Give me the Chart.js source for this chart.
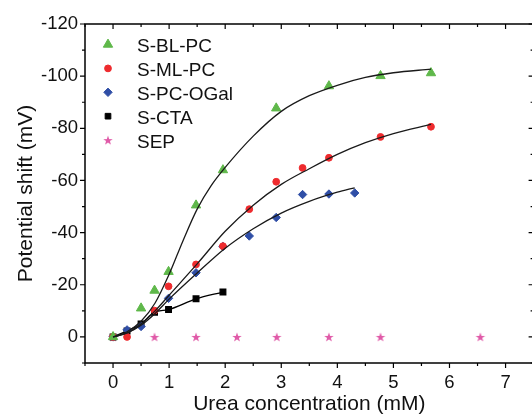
<!DOCTYPE html>
<html lang="en">
<head>
  <meta charset="UTF-8">
  <title>Potential shift vs urea concentration</title>
  <style>
    html, body {
      margin: 0;
      padding: 0;
      background: #fff;
      overflow: hidden;
    }
    .wrap {
      width: 540px;
      height: 414px;
    }
  </style>
</head>
<body>
  <div class="wrap">
    <canvas id="chart" width="540" height="414"></canvas>
  </div>

  <script src="https://cdn.jsdelivr.net/npm/chart.js"></script>
  <script>
    // measured points (urea in mM, shift in mV)
    const concBL = [0, 0.5, 0.74, 0.99, 1.48, 1.96, 2.91, 3.85, 4.77, 5.67];
    const shiftBL = [0, -11, -17.8, -25, -50.5, -64, -87.7, -96.2, -100.1, -101.2];

    const concML = [0, 0.25, 0.74, 0.99, 1.48, 1.96, 2.43, 2.91, 3.38, 3.85, 4.77, 5.67];
    const shiftML = [0, 0, -10.1, -19.4, -27.8, -34.8, -49, -59.5, -64.8, -68.7, -76.7, -80.6];

    const concOGal = [0, 0.25, 0.5, 0.99, 1.48, 1.96, 2.43, 2.91, 3.38, 3.85, 4.31];
    const shiftOGal = [0, -2.7, -4, -14.8, -24.6, -34.7, -38.7, -45.8, -54.6, -54.8, -55.2];

    const concCTA = [0, 0.25, 0.5, 0.74, 0.99, 1.48, 1.96];
    const shiftCTA = [0, -2.3, -5, -9.5, -10.5, -14.6, -17.2];

    const concSEP = [0, 0.74, 1.48, 2.21, 2.92, 3.85, 4.77, 6.55];
    const shiftSEP = [0, 0, 0, 0, 0, 0, 0, 0];

    // fitted curves
    const fitBLx = [0, 0.25, 0.5, 0.75, 1, 1.25, 1.5, 1.75, 2, 2.5, 3, 3.5, 4, 4.5, 5, 5.67];
    const fitBLy = [0, -2, -6, -13, -24, -37, -49, -58, -65, -77, -86.5, -92.5, -96.5, -99.5, -101.3, -102.7];
    const fitMLx = [0, 0.25, 0.5, 0.75, 1, 1.5, 2, 2.5, 3, 3.5, 4, 4.5, 5, 5.67];
    const fitMLy = [0, -1.5, -5, -10, -16, -28, -40.5, -50.5, -58.5, -64.5, -70, -74.5, -78, -81.5];
    const fitOGalx = [0, 0.25, 0.5, 0.75, 1, 1.5, 2, 2.5, 3, 3.5, 4, 4.31];
    const fitOGaly = [0, -1.5, -4.5, -9, -14.5, -24.5, -34, -41.5, -47.5, -52, -55.5, -57.2];

    const xTicks = [0, 1, 2, 3, 4, 5, 6, 7];
    const yTicks = [-120, -100, -80, -60, -40, -20, 0];

    const FONT = "'Liberation Sans', Arial, sans-serif";
    const TEXT = '#111';

    function pts(xs, ys) {
      return xs.map((x, i) => ({ x: x, y: ys[i] }));
    }

    function makeStar(color) {
      const c = document.createElement('canvas');
      c.width = 12;
      c.height = 12;
      const g = c.getContext('2d');
      g.fillStyle = color;
      g.beginPath();
      for (let i = 0; i < 10; i++) {
        const r = i % 2 ? 2 : 5;
        const a = -Math.PI / 2 + i * Math.PI / 5;
        g.lineTo(6 + r * Math.cos(a), 6.5 + r * Math.sin(a));
      }
      g.closePath();
      g.fill();
      return c;
    }

    const star = makeStar('#e05aa8');

    function fitLine(xs, ys) {
      return {
        data: pts(xs, ys),
        showLine: true,
        borderColor: '#1a1a1a',
        borderWidth: 1.3,
        pointRadius: 0,
        cubicInterpolationMode: 'monotone',
        fill: false
      };
    }

    function marks(label, xs, ys, color, style, radius) {
      return {
        label: label,
        data: pts(xs, ys),
        backgroundColor: color,
        borderColor: color,
        borderWidth: 1,
        pointStyle: style,
        pointRadius: radius
      };
    }

    const series = [
      marks('S-BL-PC', concBL, shiftBL, '#5fb84a', 'triangle', 5.4),
      marks('S-ML-PC', concML, shiftML, '#ee2b2e', 'circle', 3.4),
      marks('S-PC-OGal', concOGal, shiftOGal, '#2f4ea6', 'rectRot', 4.2),
      marks('S-CTA', concCTA, shiftCTA, '#000000', 'rect', 4),
      marks('SEP', concSEP, shiftSEP, '#e05aa8', star, 5)
    ];
    // CTA points are joined by their own curve
    series[3].showLine = true;
    series[3].cubicInterpolationMode = 'monotone';
    series[3].borderWidth = 1.3;

    // frame with inward ticks on top/right, outward on left/bottom
    const frame = {
      id: 'frame',
      afterDatasetsDraw(chart) {
        const { ctx, chartArea: a, scales: { x, y } } = chart;
        ctx.save();
        ctx.strokeStyle = '#000';
        ctx.lineWidth = 1.5;
        ctx.strokeRect(a.left, a.top, a.right - a.left, a.bottom - a.top);
        ctx.lineWidth = 1.2;
        ctx.beginPath();
        for (let v = x.min; v <= x.max + 1e-9; v += 0.5) {
          const px = x.getPixelForValue(v);
          const len = Number.isInteger(v) ? 5 : 3;
          ctx.moveTo(px, a.bottom);
          ctx.lineTo(px, a.bottom + len);
          ctx.moveTo(px, a.top);
          ctx.lineTo(px, a.top + len);
        }
        for (let v = -120; v <= y.max + 1e-9; v += 10) {
          const py = y.getPixelForValue(v);
          const len = v % 20 === 0 ? 5 : 3;
          ctx.moveTo(a.left, py);
          ctx.lineTo(a.left - len, py);
          ctx.moveTo(a.right, py);
          ctx.lineTo(a.right - len, py);
        }
        ctx.stroke();
        ctx.restore();
      }
    };

    const legendBox = {
      id: 'legendBox',
      afterDraw(chart) {
        const ctx = chart.ctx;
        ctx.save();
        ctx.font = '19px ' + FONT;
        ctx.textBaseline = 'alphabetic';
        ctx.textAlign = 'left';
        series.forEach((ds, i) => {
          const my = 44.5 + i * 23.9;
          ctx.fillStyle = ds.backgroundColor;
          ctx.strokeStyle = ds.borderColor;
          ctx.lineWidth = 1;
          Chart.helpers.drawPoint(ctx, {
            pointStyle: ds.pointStyle,
            radius: ds.pointRadius,
            rotation: 0,
            borderWidth: 1
          }, 108, my);
          ctx.fillStyle = TEXT;
          ctx.fillText(ds.label, 137, 52.3 + i * 23.9);
        });
        ctx.restore();
      }
    };

    new Chart(document.getElementById('chart'), {
      type: 'scatter',
      data: {
        datasets: [
          fitLine(fitBLx, fitBLy),
          fitLine(fitMLx, fitMLy),
          fitLine(fitOGalx, fitOGaly)
        ].concat(series)
      },
      options: {
        responsive: false,
        animation: false,
        layout: { padding: { top: 24, right: 6, left: 0, bottom: 0 } },
        plugins: {
          legend: { display: false },
          tooltip: { enabled: false }
        },
        scales: {
          x: {
            type: 'linear',
            min: -0.5,
            max: 7.5,
            afterBuildTicks: s => { s.ticks = xTicks.map(v => ({ value: v })); },
            afterFit: s => { s.height = 51; },
            grid: { display: false, drawTicks: false },
            border: { display: false },
            ticks: { padding: 9, color: TEXT, font: { family: FONT, size: 18.5 } },
            title: {
              display: true,
              text: 'Urea concentration (mM)',
              color: TEXT,
              font: { family: FONT, size: 21, lineHeight: 1 },
              padding: { top: 0, bottom: -1 }
            }
          },
          y: {
            type: 'linear',
            reverse: true,
            min: -120,
            max: 10,
            afterBuildTicks: s => { s.ticks = yTicks.map(v => ({ value: v })); },
            afterFit: s => { s.width = 85; },
            grid: { display: false, drawTicks: false },
            border: { display: false },
            ticks: { padding: 7, color: TEXT, font: { family: FONT, size: 18.5 } },
            title: {
              display: true,
              text: 'Potential shift (mV)',
              color: TEXT,
              font: { family: FONT, size: 21, lineHeight: 1 },
              padding: { top: 15.5, bottom: 0 }
            }
          }
        }
      },
      plugins: [frame, legendBox]
    });
  </script>
</body>
</html>
